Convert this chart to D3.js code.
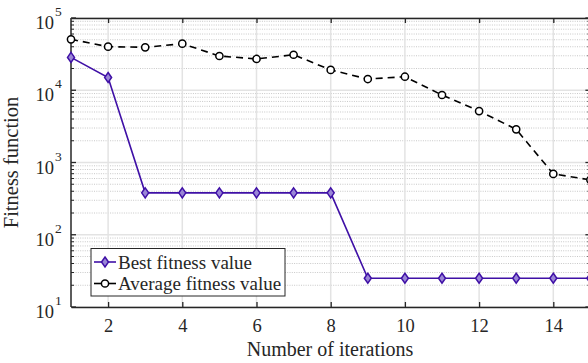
<!DOCTYPE html>
<html>
<head>
<meta charset="utf-8">
<script src="https://cdn.jsdelivr.net/npm/d3@7"></script>
<style>
  html, body { margin: 0; padding: 0; background: #fff; }
  svg { display: block; }
  text { font-family: "Liberation Serif", "Times New Roman", serif; fill: #262626; }
</style>
</head>
<body>
<svg id="chart" width="588" height="363"></svg>
<script>
// Convergence of the optimiser: fitness per iteration (log scale)
const iterations = [1, 2, 3, 4, 5, 6, 7, 8, 9, 10, 11, 12, 13, 14, 15];
const bestFitness = [28500, 15000, 380, 380, 380, 380, 380, 380, 25, 25, 25, 25, 25, 25, 25];
const averageFitness = [50700, 40100, 39300, 44100, 29800, 27100, 31000, 19100, 14300, 15400, 8600, 5150, 2880, 695, 575];
const xTickValues = [2, 4, 6, 8, 10, 12, 14];
const yDecades = [1, 2, 3, 4, 5];
const seriesNames = ["Best fitness value", "Average fitness value"];

const svg = d3.select("#chart");
const plotLeft = 71, plotRight = 590.4, plotTop = 18, plotBottom = 307;

const x = d3.scaleLinear().domain([1, 15]).range([plotLeft, plotRight]);
const y = d3.scaleLog().domain([10, 1e5]).range([plotBottom, plotTop]);

// minor y values: 2..9 x 10^k
const minorY = [];
for (let k = 1; k < 5; k++) for (let m = 2; m <= 9; m++) minorY.push(m * Math.pow(10, k));

// grid
const grid = svg.append("g");
grid.selectAll(".minor").data(minorY).join("line")
  .attr("x1", plotLeft).attr("x2", plotRight)
  .attr("y1", d => y(d)).attr("y2", d => y(d))
  .attr("stroke", "#c8c8c8").attr("stroke-width", 1).attr("stroke-dasharray", "1,1.3");
grid.selectAll(".majorY").data(yDecades.map(p => Math.pow(10, p))).join("line")
  .attr("x1", plotLeft).attr("x2", plotRight)
  .attr("y1", d => y(d)).attr("y2", d => y(d))
  .attr("stroke", "#e3e3e3").attr("stroke-width", 1.5);
grid.selectAll(".majorX").data(xTickValues).join("line")
  .attr("x1", d => x(d)).attr("x2", d => x(d))
  .attr("y1", plotTop).attr("y2", plotBottom)
  .attr("stroke", "#e3e3e3").attr("stroke-width", 1.5);

// axes (ticks inward, on all four sides)
const axisColor = "#262626";
const bottomAxis = svg.append("g").attr("transform", `translate(0,${plotBottom})`)
  .call(d3.axisBottom(x).tickValues(xTickValues).tickSizeInner(-5).tickSizeOuter(0).tickFormat(d3.format("d")));
const topAxis = svg.append("g").attr("transform", `translate(0,${plotTop})`)
  .call(d3.axisTop(x).tickValues(xTickValues).tickSizeInner(-5).tickSizeOuter(0).tickFormat(""));
[bottomAxis, topAxis].forEach(g => {
  g.select(".domain").attr("stroke", axisColor).attr("stroke-width", 1.5);
  g.selectAll(".tick line").attr("stroke", axisColor).attr("stroke-width", 1.3);
});
bottomAxis.selectAll(".tick text")
  .attr("y", 24.5).attr("dy", 0)
  .style("font-family", '"Liberation Serif", serif').style("font-size", "18.5px").attr("fill", "#262626");

function yAxisSide(g, isLeft) {
  const major = yDecades.map(p => Math.pow(10, p));
  const sign = isLeft ? 1 : -1;
  const base = isLeft ? plotLeft : plotRight;
  g.append("line").attr("x1", base).attr("x2", base).attr("y1", plotTop).attr("y2", plotBottom)
    .attr("stroke", axisColor).attr("stroke-width", 1.5);
  g.selectAll(".ymaj").data(major).join("line")
    .attr("x1", base).attr("x2", base + sign * 5)
    .attr("y1", d => y(d)).attr("y2", d => y(d))
    .attr("stroke", axisColor).attr("stroke-width", 1.3);
  g.selectAll(".ymin").data(minorY).join("line")
    .attr("x1", base).attr("x2", base + sign * 3)
    .attr("y1", d => y(d)).attr("y2", d => y(d))
    .attr("stroke", axisColor).attr("stroke-width", 1);
}
yAxisSide(svg.append("g"), true);
yAxisSide(svg.append("g"), false);

// y tick labels 10^k
const yLabels = svg.append("g");
yDecades.forEach(p => {
  yLabels.append("text")
    .attr("x", 54).attr("y", y(Math.pow(10, p)) + 11)
    .attr("text-anchor", "end").style("font-size", "18.5px").text("10");
  yLabels.append("text")
    .attr("x", 55).attr("y", y(Math.pow(10, p)) - 2)
    .style("font-size", "13.5px").text(String(p));
});

// axis titles
svg.append("text").attr("x", 330).attr("y", 355.5)
  .attr("text-anchor", "middle").style("font-size", "20px").text("Number of iterations");
svg.append("text").attr("transform", `translate(18,${(plotTop + plotBottom) / 2}) rotate(-90)`)
  .attr("text-anchor", "middle").style("font-size", "20.5px").text("Fitness function");

// series
const bestColor = "#3f10a6";
const line = d3.line().x(d => x(d[0])).y(d => y(d[1]));
const bestData = iterations.map((it, i) => [it, bestFitness[i]]);
const avgData = iterations.map((it, i) => [it, averageFitness[i]]);

svg.append("path").datum(avgData).attr("d", line)
  .attr("fill", "none").attr("stroke", "#000").attr("stroke-width", 1.6)
  .attr("stroke-dasharray", "7,5");
svg.append("path").datum(bestData).attr("d", line)
  .attr("fill", "none").attr("stroke", bestColor).attr("stroke-width", 1.6);

const diamond = "M0,-5L3.5,0L0,5L-3.5,0Z";
svg.append("g").selectAll("path").data(bestData).join("path")
  .attr("transform", d => `translate(${x(d[0])},${y(d[1])})`)
  .attr("d", diamond).attr("fill", "#9a86d6").attr("stroke", bestColor).attr("stroke-width", 1.5);
svg.append("g").selectAll("circle").data(avgData).join("circle")
  .attr("cx", d => x(d[0])).attr("cy", d => y(d[1])).attr("r", 3.6)
  .attr("fill", "#fff").attr("stroke", "#000").attr("stroke-width", 1.5);

// legend
const lg = svg.append("g");
lg.append("rect").attr("x", 91).attr("y", 248.5).attr("width", 194).attr("height", 47.5)
  .attr("fill", "#fff").attr("stroke", "#262626").attr("stroke-width", 1);
const rows = [
  { name: seriesNames[0], y: 262, color: bestColor, marker: "diamond" },
  { name: seriesNames[1], y: 283.5, color: "#000", marker: "circle" }
];
rows.forEach(r => {
  lg.append("line").attr("x1", 94).attr("x2", 116).attr("y1", r.y).attr("y2", r.y)
    .attr("stroke", r.color).attr("stroke-width", 1.6);
  if (r.marker === "diamond") {
    lg.append("path").attr("transform", `translate(105,${r.y})`).attr("d", diamond)
      .attr("fill", "#9a86d6").attr("stroke", r.color).attr("stroke-width", 1.5);
  } else {
    lg.append("circle").attr("cx", 105).attr("cy", r.y).attr("r", 3.6)
      .attr("fill", "#fff").attr("stroke", r.color).attr("stroke-width", 1.5);
  }
  lg.append("text").attr("x", 118).attr("y", r.y + 6.5).style("font-size", "19px").text(r.name);
});
</script>
</body>
</html>
